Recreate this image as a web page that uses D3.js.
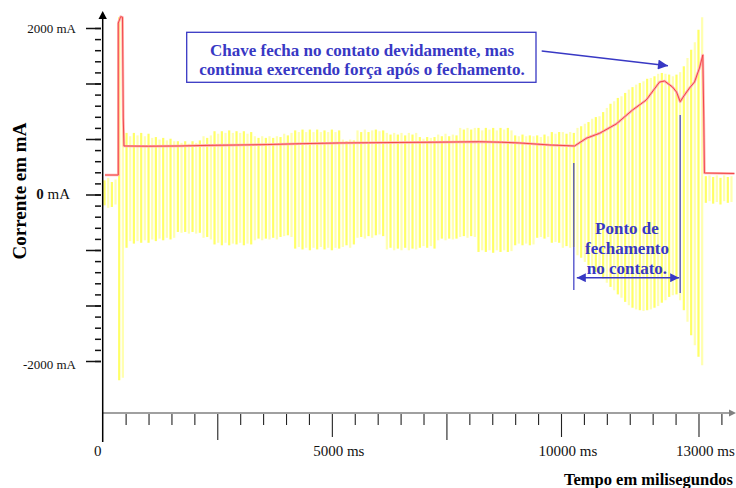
<!DOCTYPE html>
<html><head><meta charset="utf-8">
<script src="https://cdn.jsdelivr.net/npm/d3@7"></script>
<style>
body{margin:0;background:#fff}
svg{display:block}
text{font-family:"Liberation Serif","Times New Roman",serif}
</style>
</head><body>
<svg id="c" width="736" height="488"></svg>
<script>
// ---- data ----
const amostraInicio = 40;   // ms
const amostraPasso = 80;    // ms
// upper value of each oscilloscope stroke (mA)
const sinalMax = [
 170,200,150,180,2130,2120,740,700,740,710,
 740,700,730,680,690,660,680,650,670,640,
 640,620,640,610,640,620,650,700,680,710,
 760,730,760,740,770,740,760,740,760,730,
 750,700,680,700,680,700,680,700,690,730,
 710,740,770,750,780,750,780,750,780,750,
 770,750,780,750,770,660,640,660,650,770,
 750,780,750,770,780,760,770,740,720,740,
 720,740,710,740,720,740,690,670,690,680,
 690,720,700,730,700,720,710,800,780,800,
 780,800,800,770,800,780,800,770,800,780,
 800,770,710,700,720,700,710,700,710,690,
 720,700,750,730,750,750,730,750,740,800,
 820,850,870,910,930,940,990,1040,1090,1120,
 1160,1180,1220,1260,1290,1320,1340,1360,1390,1400,
 1420,1450,1460,1450,1440,1420,1440,1470,1540,1640,
 1740,1830,1980,2130,220,230,210,230,200,230,
 210,220
];
// lower value of each stroke (mA)
const sinalMin = [
 -130,-160,-150,-120,-2230,-2200,-640,-560,-590,-560,
 -580,-550,-580,-540,-560,-530,-550,-520,-540,-520,
 -450,-460,-450,-470,-450,-470,-460,-520,-510,-540,
 -600,-580,-610,-580,-610,-590,-600,-580,-610,-590,
 -600,-550,-530,-550,-530,-540,-520,-540,-510,-500,
 -490,-510,-650,-630,-660,-640,-670,-640,-660,-630,
 -660,-640,-670,-640,-650,-630,-610,-640,-600,-520,
 -510,-530,-500,-520,-490,-480,-500,-660,-640,-670,
 -650,-670,-640,-670,-650,-660,-640,-620,-640,-620,
 -650,-550,-530,-550,-530,-540,-530,-510,-500,-520,
 -500,-510,-690,-670,-690,-670,-700,-670,-690,-670,
 -690,-680,-610,-590,-610,-590,-610,-600,-520,-510,
 -530,-510,-580,-570,-580,-640,-620,-640,-630,-730,
 -760,-810,-850,-880,-930,-970,-1010,-1060,-1110,-1150,
 -1200,-1240,-1290,-1330,-1360,-1380,-1390,-1400,-1390,-1380,
 -1360,-1340,-1300,-1270,-1230,-1210,-1200,-1270,-1390,-1530,
 -1690,-1810,-1950,-2050,-100,-80,-110,-90,-120,-80,
 -100,-90
];
// red trace (mean current)
const tempoMedia = [50,340,340,392,432,449,464,1000,1685,2300,2993,3600,4300,5173,5800,6481,7200,8225,8700,9097,9751,10296,10551,10841,11205,11561,11860,12150,12259,12433,12521,12601,12695,12804,12913,13022,13094,13115,13130,13784];
const correnteMedia = [234,234,2060,2136,2130,919,583,580,583,590,595,600,610,619,622,625,628,634,628,619,595,583,675,735,847,1015,1135,1351,1363,1291,1231,1115,1195,1279,1351,1519,1676,931,258,252];

const ticksYRotulo = [2000, 0, -2000];
const rotulosY = ["2000 mA", "0 mA", "-2000 mA"];
const ticksXRotulo = [0, 5000, 10000, 13000];
const rotulosX = ["0", "5000 ms", "10000 ms", "13000 ms"];
const ticksXMaiores = [2500, 7500];
const tituloY = "Corrente em mA";
const tituloX = "Tempo em milisegundos";
const notaCaixa = ["Chave fecha no contato devidamente, mas", "continua exercendo força após o fechamento."];
const notaPonto = ["Ponto de", "fechamento", "no contato."];
const tempoFechaInicio = 10280, tempoFechaFim = 12600;

// ---- drawing ----
const svg = d3.select("#c");
const x = d3.scaleLinear().domain([0, 10000]).range([102.7, 561]);
const y = d3.scaleLinear().domain([-2000, 2000]).range([361, 28]);
const azul = "#3838c4";

// defs
const defs = svg.append("defs");
function marker(id, color, w, h) {
  defs.append("marker").attr("id", id).attr("viewBox", "0 0 10 10")
    .attr("refX", 10).attr("refY", 5).attr("markerWidth", w).attr("markerHeight", h)
    .attr("markerUnits", "userSpaceOnUse").attr("orient", "auto-start-reverse")
    .append("path").attr("d", "M0,0L10,5L0,10Z").attr("fill", color);
}
marker("seta", azul, 11, 10);
marker("seta2", azul, 10, 9);

// yellow signal strokes
const tempos = sinalMax.map((d, i) => amostraInicio + i * amostraPasso);
svg.append("g").selectAll("line").data(sinalMax).join("line")
  .attr("x1", (d, i) => x(tempos[i])).attr("x2", (d, i) => x(tempos[i]))
  .attr("y1", d => y(d)).attr("y2", (d, i) => y(sinalMin[i]))
  .attr("stroke", (d, i) => i % 2 ? "#ffffb0" : "#ffff66")
  .attr("stroke-width", 2.2);

// red trace
const linha = d3.line().x((d, i) => x(tempoMedia[i])).y(d => y(d));
svg.append("path").attr("d", linha(correnteMedia)).attr("fill", "none")
  .attr("stroke", "#ffb0b0").attr("stroke-width", 2.6).attr("stroke-linejoin", "round");
svg.append("path").attr("d", linha(correnteMedia)).attr("fill", "none")
  .attr("stroke", "#f03c3c").attr("stroke-width", 0.9).attr("stroke-linejoin", "round");

// y axis ticks
const minY = d3.range(31).map(i => -2000 + i * 4000 / 30);
const majY = minY.filter((d, i) => i % 5 === 0);
const gY1 = svg.append("g").attr("transform", "translate(101,0)")
  .call(d3.axisLeft(y).tickValues(minY).tickSize(6).tickFormat(""));
const gY2 = svg.append("g").attr("transform", "translate(101,0)")
  .call(d3.axisLeft(y).tickValues(majY).tickSize(15).tickFormat(""));
[gY1, gY2].forEach(g => {
  g.select(".domain").remove();
  g.selectAll(".tick line").attr("stroke", "#111").attr("stroke-width", 1.5);
});

// x axis ticks
const minX = d3.range(1, 28).map(i => i * 500).filter(d => !ticksXRotulo.includes(d) && !ticksXMaiores.includes(d));
const gX1 = svg.append("g").attr("transform", "translate(0,414)")
  .call(d3.axisBottom(x).tickValues(minX).tickSize(11).tickFormat(""));
const gX2 = svg.append("g").attr("transform", "translate(0,414)")
  .call(d3.axisBottom(x).tickValues(ticksXRotulo.slice(1)).tickSize(23).tickFormat(""));
const gX3 = svg.append("g").attr("transform", "translate(0,414)")
  .call(d3.axisBottom(x).tickValues(ticksXMaiores).tickSize(26).tickFormat(""));
[gX1, gX2, gX3].forEach(g => {
  g.select(".domain").remove();
  g.selectAll(".tick line").attr("stroke", "#222").attr("stroke-width", 1.1);
});

// axis lines
svg.append("line").attr("x1", 102.7).attr("x2", 730).attr("y1", 413).attr("y2", 413)
  .attr("stroke", "#808080").attr("stroke-width", 1.6);
svg.append("path").attr("d", "M736,413L729,409.5L729,416.5Z").attr("fill", "#808080");
svg.append("line").attr("x1", x(0)).attr("x2", x(0)).attr("y1", 16).attr("y2", 442)
  .attr("stroke", "#000").attr("stroke-width", 1.5);
svg.append("path").attr("d", `M${x(0)},11L${x(0) - 4.2},19L${x(0) + 4.2},19Z`).attr("fill", "#000");

// y labels
svg.append("g").selectAll("text").data(ticksYRotulo).join("text")
  .attr("x", d => d === 0 ? 70 : 76).attr("y", d => y(d) + (d === -2000 ? 8 : 4.5))
  .attr("text-anchor", "end").attr("font-size", d => d === 0 ? 15 : 13).attr("fill", "#111")
  .each(function (d, i) {
    const t = d3.select(this); const parts = rotulosY[i].split(" ");
    t.append("tspan").attr("font-weight", d === 0 ? "bold" : "normal").text(parts[0]);
    t.append("tspan").text(" " + parts[1]);
  });

// x labels
svg.append("g").selectAll("text").data(ticksXRotulo).join("text")
  .attr("x", d => d === 0 ? x(d) - 5 : x(d) + 7).attr("y", 456)
  .attr("text-anchor", "middle").attr("font-size", 15).attr("fill", "#111")
  .text((d, i) => rotulosX[i]);

// titles
svg.append("text").attr("transform", "translate(26,191) rotate(-90)")
  .attr("text-anchor", "middle").attr("font-size", 19).attr("font-weight", "bold").text(tituloY);
svg.append("text").attr("x", 733).attr("y", 485).attr("text-anchor", "end")
  .attr("font-size", 16.5).attr("font-weight", "bold").text(tituloX);

// annotation box
svg.append("rect").attr("x", 186.7).attr("y", 32.3).attr("width", 349.3).attr("height", 50)
  .attr("fill", "#fff").attr("stroke", azul).attr("stroke-width", 1.3);
svg.append("g").selectAll("text").data(notaCaixa).join("text")
  .attr("x", 362).attr("y", (d, i) => 55.5 + i * 19.5).attr("text-anchor", "middle")
  .attr("font-size", 17).attr("font-weight", "bold").attr("fill", azul).text(d => d);
svg.append("line").attr("x1", 541.7).attr("y1", 51).attr("x2", 668).attr("y2", 65.7)
  .attr("stroke", azul).attr("stroke-width", 1.4).attr("marker-end", "url(#seta)");

// closing point annotation
const xa = x(tempoFechaInicio), xb = x(tempoFechaFim);
svg.append("line").attr("x1", xa).attr("x2", xa).attr("y1", 163).attr("y2", 290)
  .attr("stroke", azul).attr("stroke-width", 1.2);
svg.append("line").attr("x1", xb).attr("x2", xb).attr("y1", 115).attr("y2", 293)
  .attr("stroke", azul).attr("stroke-width", 1.2);
svg.append("line").attr("x1", xa + 3).attr("x2", xb - 1).attr("y1", 277.7).attr("y2", 277.7)
  .attr("stroke", azul).attr("stroke-width", 1.4)
  .attr("marker-start", "url(#seta2)").attr("marker-end", "url(#seta2)");
svg.append("g").selectAll("text").data(notaPonto).join("text")
  .attr("x", (xa + xb) / 2).attr("y", (d, i) => 233.5 + i * 20.4).attr("text-anchor", "middle")
  .attr("font-size", 17).attr("font-weight", "bold").attr("fill", azul).text(d => d);
</script>
</body></html>
